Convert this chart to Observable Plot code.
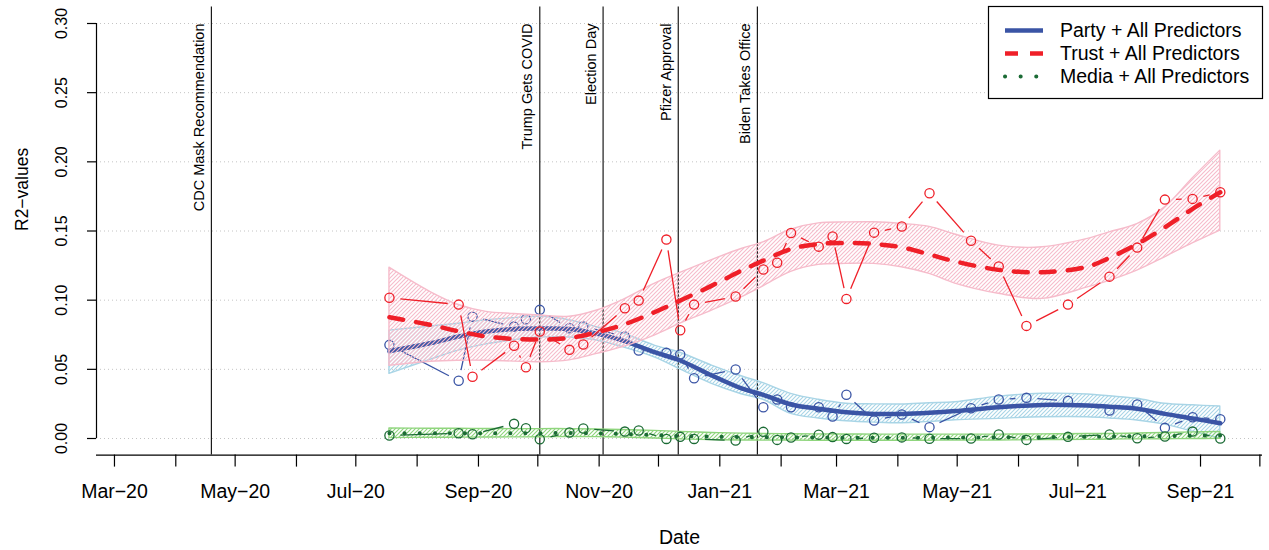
<!DOCTYPE html>
<html><head><meta charset="utf-8">
<script src="https://cdn.jsdelivr.net/npm/d3@7"></script>
<script src="https://cdn.jsdelivr.net/npm/@observablehq/plot@0.6"></script>
<style>
html,body{margin:0;padding:0;background:#fff;}
#wrap{position:relative;width:1269px;height:550px;font-family:"Liberation Sans",Arial,Helvetica,sans-serif;}
#wrap svg.overlay{position:absolute;left:0;top:0;pointer-events:none;}
</style></head><body><div id="wrap"></div>
<script>
// ---------- data ----------
const waveDates = ["2020-07-18","2020-08-22","2020-08-29","2020-09-19","2020-09-25","2020-10-02","2020-10-17","2020-10-24","2020-11-14","2020-11-21","2020-12-05","2020-12-12","2020-12-19","2021-01-09","2021-01-23","2021-01-30","2021-02-06","2021-02-20","2021-02-27","2021-03-06","2021-03-20","2021-04-03","2021-04-17","2021-05-08","2021-05-22","2021-06-05","2021-06-26","2021-07-17","2021-07-31","2021-08-14","2021-08-28","2021-09-11"];
const partyR2 = [0.0677,0.0417,0.0881,0.0809,0.0862,0.0930,0.0797,0.0810,0.0737,0.0636,0.0619,0.0607,0.0436,0.0499,0.0226,0.0282,0.0226,0.0226,0.0159,0.0316,0.0130,0.0173,0.0082,0.0219,0.0282,0.0294,0.0272,0.0202,0.0246,0.0077,0.0154,0.0140];
const trustR2 = [0.1017,0.0968,0.0446,0.0670,0.0515,0.0773,0.0641,0.0679,0.0942,0.0997,0.1438,0.0783,0.0968,0.1027,0.1222,0.1271,0.1486,0.1387,0.1460,0.1009,0.1488,0.1532,0.1773,0.1430,0.1243,0.0814,0.0968,0.1170,0.1380,0.1727,0.1732,0.1780];
const mediaR2 = [0.0022,0.0038,0.0031,0.0106,0.0075,-0.0005,0.0043,0.0072,0.0050,0.0058,-0.0003,0.0012,-0.0003,-0.0014,0.0048,-0.0010,0.0007,0.0028,0.0010,-0.0003,0.0005,0.0008,-0.0002,0.0000,0.0029,-0.0010,0.0012,0.0029,0.0002,0.0014,0.0050,0.0000];

const fitDates = ["2020-07-18","2020-08-08","2020-08-22","2020-09-05","2020-09-19","2020-10-02","2020-10-17","2020-10-31","2020-11-13","2020-11-29","2020-12-12","2020-12-28","2021-01-12","2021-01-23","2021-02-06","2021-02-20","2021-03-06","2021-03-20","2021-04-03","2021-04-17","2021-04-30","2021-05-22","2021-06-13","2021-07-06","2021-07-17","2021-07-31","2021-08-14","2021-08-28","2021-09-11"];
const partyFit = [0.0631,0.0690,0.0737,0.0773,0.0792,0.0795,0.0792,0.0756,0.0708,0.0624,0.0564,0.0455,0.0362,0.0315,0.0246,0.0215,0.0190,0.0178,0.0178,0.0186,0.0198,0.0226,0.0243,0.0238,0.0230,0.0215,0.0178,0.0145,0.0110];
const partyHi  = [0.0780,0.0810,0.0830,0.0855,0.0870,0.0880,0.0855,0.0804,0.0760,0.0672,0.0620,0.0527,0.0450,0.0400,0.0323,0.0280,0.0251,0.0247,0.0246,0.0255,0.0262,0.0303,0.0323,0.0318,0.0305,0.0287,0.0251,0.0240,0.0231];
const partyLo  = [0.0467,0.0570,0.0635,0.0680,0.0710,0.0730,0.0730,0.0708,0.0660,0.0587,0.0500,0.0395,0.0320,0.0280,0.0178,0.0145,0.0125,0.0115,0.0110,0.0120,0.0132,0.0142,0.0154,0.0154,0.0145,0.0130,0.0100,0.0050,0.0000];
const trustFit = [0.0877,0.0820,0.0775,0.0737,0.0720,0.0715,0.0727,0.0768,0.0821,0.0913,0.0997,0.1105,0.1214,0.1286,0.1370,0.1406,0.1414,0.1406,0.1382,0.1330,0.1280,0.1219,0.1202,0.1243,0.1306,0.1406,0.1527,0.1660,0.1780];
const trustHi  = [0.1235,0.1057,0.0965,0.0915,0.0900,0.0889,0.0880,0.0925,0.1000,0.1118,0.1197,0.1290,0.1370,0.1418,0.1510,0.1555,0.1562,0.1563,0.1551,0.1530,0.1475,0.1394,0.1382,0.1443,0.1490,0.1550,0.1671,0.1880,0.2081];
const trustLo  = [0.0525,0.0555,0.0562,0.0562,0.0556,0.0551,0.0565,0.0612,0.0660,0.0744,0.0830,0.0925,0.1020,0.1100,0.1205,0.1255,0.1262,0.1262,0.1238,0.1190,0.1120,0.1046,0.1009,0.1093,0.1140,0.1214,0.1310,0.1410,0.1503];
const mediaFit = [0.0038,0.0038,0.0038,0.0038,0.0038,0.0038,0.0040,0.0037,0.0033,0.0025,0.0018,0.0013,0.0010,0.0009,0.0008,0.0007,0.0006,0.0006,0.0006,0.0006,0.0007,0.0008,0.0010,0.0012,0.0014,0.0016,0.0018,0.0020,0.0022];
const mediaHi  = [0.0072,0.0071,0.0070,0.0069,0.0068,0.0068,0.0068,0.0065,0.0061,0.0055,0.0048,0.0040,0.0035,0.0033,0.0031,0.0030,0.0029,0.0028,0.0028,0.0028,0.0028,0.0028,0.0030,0.0032,0.0033,0.0036,0.0040,0.0044,0.0048];
const mediaLo  = [0.0003,0.0005,0.0006,0.0007,0.0008,0.0009,0.0011,0.0010,0.0006,0.0000,-0.0006,-0.0012,-0.0014,-0.0015,-0.0015,-0.0016,-0.0016,-0.0016,-0.0016,-0.0016,-0.0015,-0.0014,-0.0012,-0.0010,-0.0008,-0.0006,-0.0005,-0.0004,-0.0003];

const eventDates  = ["2020-04-19","2020-10-02","2020-11-03","2020-12-11","2021-01-20"];
const eventLabels = ["CDC Mask Recommendation","Trump Gets COVID","Election Day","Pfizer Approval","Biden Takes Office"];

const yTicks = [0,0.05,0.10,0.15,0.20,0.25,0.30];
const yTickLabels = ["0.00","0.05","0.10","0.15","0.20","0.25","0.30"];
const monthTicks = ["2020-03-01","2020-04-01","2020-05-01","2020-06-01","2020-07-01","2020-08-01","2020-09-01","2020-10-01","2020-11-01","2020-12-01","2021-01-01","2021-02-01","2021-03-01","2021-04-01","2021-05-01","2021-06-01","2021-07-01","2021-08-01","2021-09-01","2021-10-01"];
const xLabelDates = ["2020-03-01","2020-05-01","2020-07-01","2020-09-01","2020-11-01","2021-01-01","2021-03-01","2021-05-01","2021-07-01","2021-09-01"];
const xLabels = ["Mar\u221220","May\u221220","Jul\u221220","Sep\u221220","Nov\u221220","Jan\u221221","Mar\u221221","May\u221221","Jul\u221221","Sep\u221221"];
const seriesNames = ["Party + All Predictors","Trust + All Predictors","Media + All Predictors"];

// ---------- styles ----------
const BLUE = "#3a54a5", RED = "#ef1f28", GREEN = "#1b6b35";
const BLUE_BAND = "#a9d5e6", RED_BAND = "#f6bccb", GREEN_BAND = "#8fd57d";
const FONT = '"Liberation Sans", Arial, Helvetica, sans-serif';

const parse = d => new Date(d + "T00:00:00Z");
const xDomain = [new Date(Date.UTC(2020,1,20,22)), new Date(Date.UTC(2021,9,2,8))];
const yDomain = [-0.012, 0.312];

const fit = fitDates.map((d,i) => ({date: parse(d),
  partyFit: partyFit[i], partyHi: partyHi[i], partyLo: partyLo[i],
  trustFit: trustFit[i], trustHi: trustHi[i], trustLo: trustLo[i],
  mediaFit: mediaFit[i], mediaHi: mediaHi[i], mediaLo: mediaLo[i]}));
const pts = vals => waveDates.map((d,i) => ({date: parse(d), v: vals[i]}));
const segs = vals => d3.pairs(pts(vals)).map(([a,b]) => ({x1: a.date, y1: a.v, x2: b.date, y2: b.v}));

function hatchDefs() {
  const ns = "http://www.w3.org/2000/svg";
  const defs = document.createElementNS(ns, "defs");
  for (const [id, color] of [["hatchBlue", BLUE_BAND], ["hatchRed", RED_BAND], ["hatchGreen", GREEN_BAND]]) {
    const p = document.createElementNS(ns, "pattern");
    p.setAttribute("id", id);
    p.setAttribute("patternUnits", "userSpaceOnUse");
    p.setAttribute("width", 4); p.setAttribute("height", 4);
    const path = document.createElementNS(ns, "path");
    path.setAttribute("d", "M-1,1 l2,-2 M0,4 l4,-4 M3,5 l2,-2");
    path.setAttribute("stroke", color);
    path.setAttribute("stroke-width", 1.15);
    p.appendChild(path);
    defs.appendChild(p);
  }
  return defs;
}

function seriesMarks(key, vals, color, bandId, bandColor, lineOpts) {
  return [
    Plot.areaY(fit, {x: "date", y1: key + "Lo", y2: key + "Hi", fill: `url(#${bandId})`, stroke: bandColor, strokeWidth: 1.4, curve: "catmull-rom"}),
    Plot.arrow(segs(vals), {x1: "x1", y1: "y1", x2: "x2", y2: "y2", stroke: color, strokeWidth: 1.3, headLength: 0, inset: 11, strokeLinecap: "butt"}),
    Plot.dot(pts(vals), {x: "date", y: "v", r: 4.6, stroke: color, strokeWidth: 1.3, fill: "none"}),
    Plot.line(fit, {x: "date", y: key + "Fit", stroke: color, curve: "catmull-rom", ...lineOpts})
  ];
}

const chart = Plot.plot({
  width: 1269, height: 550,
  marginLeft: 96, marginRight: 7, marginTop: 6.4, marginBottom: 95.4,
  x: {type: "utc", domain: xDomain, label: null},
  y: {domain: yDomain, label: null},
  style: {fontFamily: FONT, background: "white", color: "black", overflow: "visible"},
  marks: [
    () => hatchDefs(),
    Plot.ruleY(yTicks, {stroke: "#c4c4c4", strokeWidth: 1, strokeDasharray: "1,3"}),
    Plot.ruleX(eventDates.map(parse), {stroke: "#1a1a1a", strokeWidth: 1.2}),
    Plot.text(eventLabels, {x: eventDates.map(parse), y: 0.30, text: d => d, rotate: -90, textAnchor: "end", lineAnchor: "middle", dx: -12, fontSize: 14.5, fill: "black"}),
    ...seriesMarks("party", partyR2, BLUE, "hatchBlue", BLUE_BAND, {strokeWidth: 4.5}),
    ...seriesMarks("trust", trustR2, RED, "hatchRed", RED_BAND, {strokeWidth: 4.5, strokeDasharray: "14,13"}),
    ...seriesMarks("media", mediaR2, GREEN, "hatchGreen", GREEN_BAND, {strokeWidth: 4, strokeDasharray: "0.1,15", strokeLinecap: "round"}),
    // axes
    Plot.ruleX([xDomain[0]], {y1: 0, y2: 0.30, stroke: "black", strokeWidth: 1.2}),
    Plot.ruleY([yDomain[0]], {stroke: "black", strokeWidth: 1.2}),
    Plot.axisY({ticks: yTicks, tickSize: 9, tickFormat: () => "", label: null, stroke: "black", strokeWidth: 1.2}),
    Plot.text(yTickLabels, {y: yTicks, text: d => d, frameAnchor: "left", dx: -35, rotate: -90, textAnchor: "middle", lineAnchor: "middle", fontSize: 16, fill: "black"}),
    Plot.axisX({ticks: monthTicks.map(parse), tickSize: 12, tickFormat: () => "", label: null, stroke: "black", strokeWidth: 1.2}),
    Plot.text(xLabels, {x: xLabelDates.map(parse), text: d => d, frameAnchor: "bottom", dy: 42.5, fontSize: 19.5, fill: "black"}),
    Plot.text(["Date"], {text: d => d, frameAnchor: "bottom", dy: 89, fontSize: 19.5, fill: "black"}),
    Plot.text(["R2\u2212values"], {text: d => d, frameAnchor: "left", dx: -74, rotate: -90, fontSize: 17.5, fill: "black"})
  ]
});

const wrap = document.getElementById("wrap");
wrap.appendChild(chart);

// ---------- legend (top-right, inside plot box) ----------
const lg = d3.select(wrap).append("svg").attr("class", "overlay").attr("width", 1269).attr("height", 550);
lg.append("rect").attr("x", 988.5).attr("y", 6.5).attr("width", 274).attr("height", 92).attr("fill", "white").attr("stroke", "black").attr("stroke-width", 1.2);
const legendStyles = [
  {color: BLUE, dash: null, width: 4.5, cap: "butt"},
  {color: RED, dash: "13,12", width: 4.5, cap: "butt"},
  {color: GREEN, dash: "0.1,15.5", width: 4, cap: "round"}
];
const rowY = [30.5, 53.5, 76.5];
seriesNames.forEach((name, i) => {
  const s = legendStyles[i];
  const ln = lg.append("line").attr("x1", 1005).attr("x2", 1043).attr("y1", rowY[i]).attr("y2", rowY[i])
    .attr("stroke", s.color).attr("stroke-width", s.width).attr("stroke-linecap", s.cap);
  if (s.dash) ln.attr("stroke-dasharray", s.dash);
  lg.append("text").attr("x", 1060).attr("y", rowY[i]).attr("dy", "0.35em")
    .attr("font-family", FONT).attr("font-size", 19.5).attr("fill", "black").text(name);
});
</script></body></html>
